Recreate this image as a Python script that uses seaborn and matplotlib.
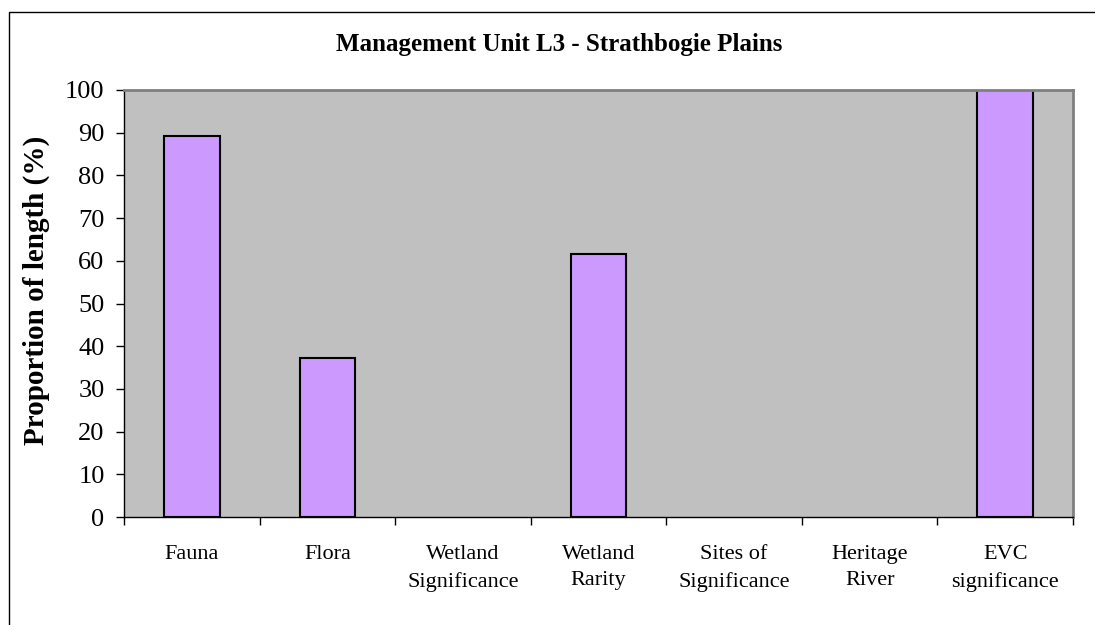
import numpy as np
import pandas as pd
import matplotlib.pyplot as plt
import seaborn as sns
from matplotlib.patches import Rectangle

# values
categories = ['Fauna', 'Flora', 'Wetland\nSignificance', 'Wetland\nRarity',
              'Sites of\nSignificance', 'Heritage\nRiver', 'EVC\nsignificance']
proportion = [89.2, 37.2, 0, 61.5, 0, 0, 100]
yticks = list(range(0, 101, 10))

df = pd.DataFrame({'category': categories, 'proportion': proportion})

sns.set_style('white')
plt.rcParams['font.family'] = ['Liberation Serif', 'DejaVu Serif']
# plain black text like the original
for key in ['text.color', 'axes.labelcolor', 'xtick.color', 'ytick.color']:
    plt.rcParams[key] = 'black'

fig = plt.figure(figsize=(10.95, 6.25), dpi=100)
ax = fig.add_axes([124 / 1095, 1 - 517 / 625, (1073 - 124) / 1095, (517 - 90) / 625])
ax.set_facecolor('#C0C0C0')

sns.barplot(data=df, x='category', y='proportion', order=categories,
            color='#CC99FF', saturation=1, width=0.41,
            edgecolor='black', linewidth=1.5, ax=ax)
# zero-height bars are not drawn in the original
for p in ax.patches:
    if p.get_height() == 0:
        p.set_visible(False)

ax.set_ylim(0, 100)
ax.set_xlim(-0.5, len(categories) - 0.5)
ax.set_yticks(yticks)
ax.set_yticklabels([str(t) for t in yticks], fontsize=19)
ax.tick_params(axis='y', direction='out', length=6, width=1, color='black', pad=8, left=True)

# category labels centred, tick marks on the boundaries
ax.set_xticks(range(len(categories)))
ax.set_xticklabels(categories, fontsize=16, linespacing=1.55)
ax.tick_params(axis='x', which='major', length=0, pad=20)
ax.set_xticks(np.arange(-0.5, len(categories), 1), minor=True)
ax.tick_params(axis='x', which='minor', direction='out', length=6, width=1, color='black', bottom=True)

ax.set_xlabel('')
ax.set_ylabel('Proportion of length (%)', fontsize=21, fontweight='bold')
ax.yaxis.set_label_coords(-0.078, 0.53)
fig.text(559 / 1095, 1 - 44 / 625, 'Management Unit L3 - Strathbogie Plains',
         fontsize=18, fontweight='bold', ha='center', va='center')

for side in ['top', 'right']:
    ax.spines[side].set_color('#808080')
    ax.spines[side].set_linewidth(2)
for side in ['left', 'bottom']:
    ax.spines[side].set_color('black')
    ax.spines[side].set_linewidth(1)

# outer chart border
fig.patches.append(Rectangle((9 / 1095, -0.1), 1.2, 1 - 12 / 625 + 0.1,
                             transform=fig.transFigure, fill=False,
                             edgecolor='black', linewidth=1.0))

fig.savefig('out.png', dpi=100)
